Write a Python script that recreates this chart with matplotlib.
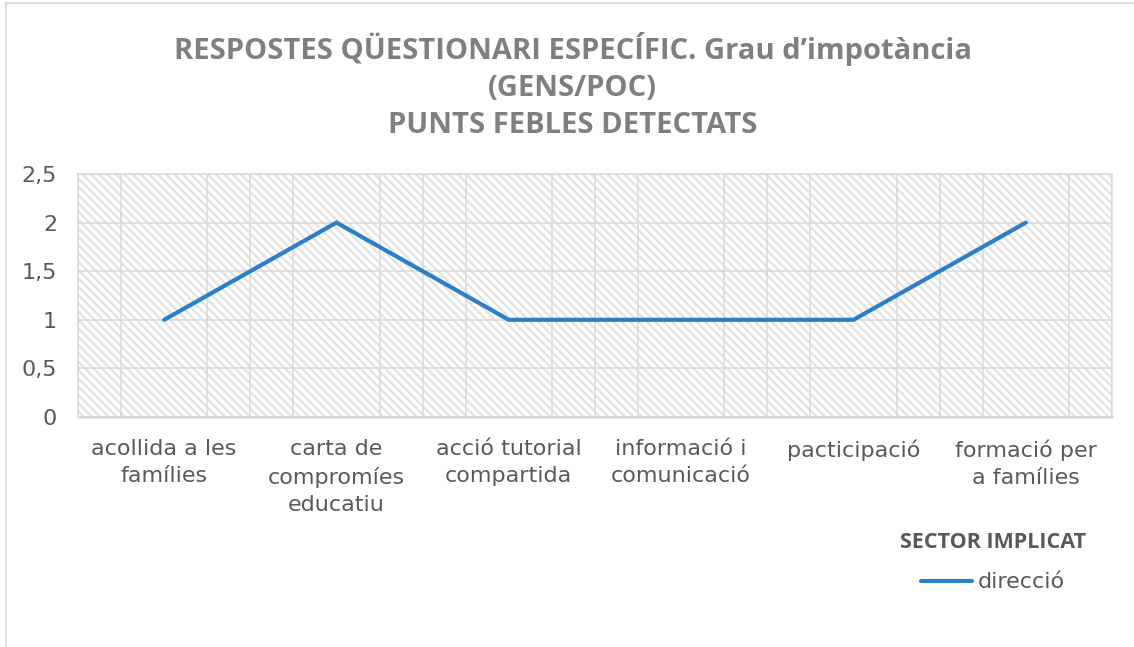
import matplotlib
matplotlib.use("Agg")
import matplotlib.pyplot as plt
from matplotlib.lines import Line2D
from matplotlib.ticker import MultipleLocator, FuncFormatter

# data
categories = ["acollida a les\nfamílies", "carta de\ncompromíes\neducatiu",
              "acció tutorial\ncompartida", "informació i\ncomunicació",
              "pacticipació", "formació per\na famílies"]
direccio = [1, 2, 1, 1, 1, 2]

title = "RESPOSTES QÜESTIONARI ESPECÍFIC. Grau d’impotància\n(GENS/POC)\nPUNTS FEBLES DETECTATS"
legend_title = "SECTOR IMPLICAT"
series_name = "direcció"

plt.rcParams["font.family"] = ["DejaVu Sans"]
plt.rcParams["hatch.linewidth"] = 1.6
plt.rcParams["hatch.color"] = "#e3e3e3"

grid_col = "#d9d9d9"
text_col = "#595959"
line_col = "#2b7fc9"

fig = plt.figure(figsize=(11.34, 6.47), dpi=100)
ax = fig.add_axes([78 / 1134, 1 - 417 / 647, (1112 - 78) / 1134, (417 - 174) / 647])

# hatched plot area
ax.patch.set_facecolor("white")
ax.fill_between([-0.5, 5.5], 0, 2.5, facecolor="white", edgecolor="#e3e3e3",
                hatch="\\\\\\\\", linewidth=0, zorder=0)

x = list(range(len(categories)))
ax.plot(x, direccio, color=line_col, linewidth=3.0, solid_capstyle="round",
        solid_joinstyle="miter", zorder=3, label=series_name)

ax.set_xlim(-0.5, 5.5)
ax.set_ylim(0, 2.5)
ax.set_xticks(x)
ax.set_xticklabels(categories, linespacing=1.45)
ax.xaxis.set_minor_locator(MultipleLocator(0.25))
ax.yaxis.set_major_locator(MultipleLocator(0.5))
ax.yaxis.set_major_formatter(FuncFormatter(lambda v, p: ("%g" % v).replace(".", ",")))

ax.grid(True, which="major", axis="y", color=grid_col, linewidth=1.1, zorder=1)
ax.grid(True, which="minor", axis="x", color=grid_col, linewidth=1.1, zorder=1)
ax.set_axisbelow(True)

ax.tick_params(axis="both", which="both", length=0, colors=text_col, labelsize=16)
ax.tick_params(axis="x", pad=16)
ax.tick_params(axis="y", pad=15)
for s in ["top", "left", "right"]:
    ax.spines[s].set_color(grid_col)
    ax.spines[s].set_linewidth(1.1)
ax.spines["bottom"].set_color(grid_col)
ax.spines["bottom"].set_linewidth(1.8)

fig.text(0.505, 1 - 86 / 647, title, ha="center", va="center", fontsize=21,
         fontweight="bold", color="#7f7f7f", linespacing=1.38,
         family=["Open Sans", "DejaVu Sans"])

leg = fig.legend(handles=[Line2D([], [], color=line_col, linewidth=3.0,
                                 solid_capstyle="round", label=series_name)],
                 title=legend_title, loc="center", bbox_to_anchor=(993 / 1134, 1 - 562 / 647),
                 frameon=False, fontsize=16, handlelength=2.3, handletextpad=0.25,
                 labelspacing=0.9,
                 title_fontproperties={"weight": "bold", "size": 15.5,
                                       "family": ["Open Sans", "DejaVu Sans"]})
leg.get_title().set_color(text_col)
for t in leg.get_texts():
    t.set_color(text_col)

# outer chart border (left and top only visible)
fig.add_artist(Line2D([5.5 / 1134, 5.5 / 1134], [0, 1 - 3 / 647], color=grid_col,
                      linewidth=1.3, transform=fig.transFigure))
fig.add_artist(Line2D([5.5 / 1134, 1], [1 - 3 / 647, 1 - 3 / 647], color=grid_col,
                      linewidth=1.3, transform=fig.transFigure))

fig.savefig("out.png", dpi=100)
